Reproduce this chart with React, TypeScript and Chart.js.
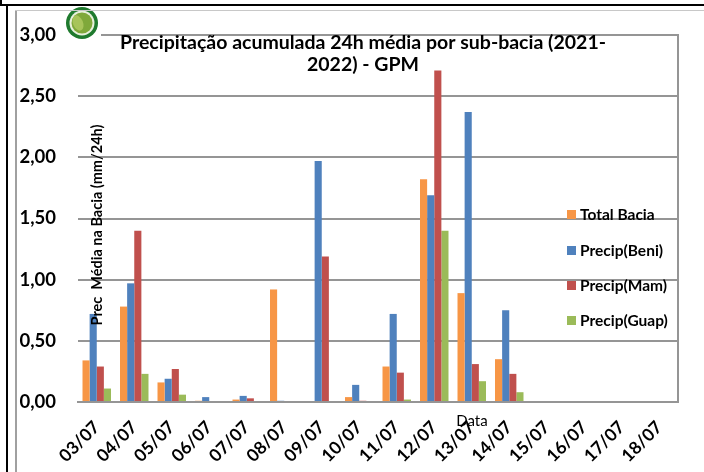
import React, { useEffect, useRef } from "react";
import { Chart, registerables } from "chart.js";

Chart.register(...registerables);

const categories = ["03/07", "04/07", "05/07", "06/07", "07/07", "08/07", "09/07", "10/07", "11/07", "12/07", "13/07", "14/07", "15/07", "16/07", "17/07", "18/07"];
const totalBacia = [0.34, 0.78, 0.16, 0.01, 0.02, 0.92, 0, 0.04, 0.29, 1.82, 0.89, 0.35, 0, 0, 0, 0];
const precipBeni = [0.72, 0.97, 0.19, 0.04, 0.05, 0.01, 1.97, 0.14, 0.72, 1.69, 2.37, 0.75, 0, 0, 0, 0];
const precipMam = [0.29, 1.40, 0.27, 0, 0.03, 0, 1.19, 0.01, 0.24, 2.71, 0.31, 0.23, 0, 0, 0, 0];
const precipGuap = [0.11, 0.23, 0.06, 0, 0, 0, 0, 0, 0.02, 1.40, 0.17, 0.08, 0, 0, 0, 0];
const seriesNames = ["Total Bacia", "Precip(Beni)", "Precip(Mam)", "Precip(Guap)"];
const seriesColors = ["#F79646", "#4F81BD", "#C0504D", "#9BBB59"];
const titleLines = ["Precipitação acumulada 24h média por sub-bacia (2021-", "2022) - GPM"];
const yTitle = "Prec  Média na Bacia (mm/24h)";
const xTitle = "Data";

const FONT = "Lato, 'Open Sans', sans-serif";

const overlayPlugin = {
  id: "overlay",
  afterDraw(chart: any) {
    const ctx = chart.ctx;
    const ca = chart.chartArea;
    ctx.save();
    // right border of plot
    ctx.strokeStyle = "#959595";
    ctx.lineWidth = 2;
    ctx.beginPath();
    ctx.moveTo(ca.right, ca.top - 1);
    ctx.lineTo(ca.right, ca.bottom);
    ctx.stroke();

    // logo
    ctx.fillStyle = "#ffffff";
    ctx.fillRect(63, 7, 38, 34);
    ctx.fillStyle = "#1f7a2e";
    ctx.beginPath();
    ctx.arc(82, 23, 16, 0, Math.PI * 2);
    ctx.fill();
    ctx.fillStyle = "#e8f0dc";
    ctx.beginPath();
    ctx.arc(82, 23, 12.5, 0, Math.PI * 2);
    ctx.fill();
    ctx.fillStyle = "#7fa83a";
    ctx.beginPath();
    ctx.arc(82, 23, 10.5, 0, Math.PI * 2);
    ctx.fill();
    ctx.fillStyle = "#a7c45a";
    ctx.beginPath();
    ctx.ellipse(78, 23, 5, 8, -0.4, 0, Math.PI * 2);
    ctx.fill();

    // title
    ctx.fillStyle = "#000";
    ctx.font = "bold 19.5px " + FONT;
    ctx.textAlign = "center";
    ctx.textBaseline = "middle";
    ctx.fillText(titleLines[0], 363, 43);
    ctx.fillText(titleLines[1], 363, 65);

    // y title
    ctx.save();
    ctx.translate(97, 225);
    ctx.rotate(-Math.PI / 2);
    ctx.font = "bold 14.5px " + FONT;
    ctx.fillText(yTitle, 0, 0);
    ctx.restore();

    // x title
    ctx.font = "15px " + FONT;
    ctx.fillText(xTitle, 472, 421);

    // legend
    const ys = [215, 251, 286, 321];
    ctx.textAlign = "left";
    ctx.font = "bold 15.5px " + FONT;
    chart.data.datasets.forEach((ds: any, i: number) => {
      ctx.fillStyle = ds.backgroundColor;
      ctx.fillRect(567, ys[i] - 5, 9, 9);
      ctx.fillStyle = "#000";
      ctx.fillText(ds.label, 580, ys[i]);
    });
    ctx.restore();
  },
};

export default function App() {
  const ref = useRef<HTMLCanvasElement | null>(null);
  useEffect(() => {
    if (!ref.current) return;
    const values = [totalBacia, precipBeni, precipMam, precipGuap];
    const chart = new Chart(ref.current, {
      type: "bar",
      data: {
        labels: categories,
        datasets: values.map((v, i) => ({
          label: seriesNames[i],
          data: v,
          backgroundColor: seriesColors[i],
          borderWidth: 0,
          categoryPercentage: 0.76,
          barPercentage: 1,
        })),
      },
      options: {
        animation: false,
        responsive: false,
        maintainAspectRatio: false,
        layout: { padding: { top: 35, right: 26, left: 0, bottom: 0 } },
        plugins: {
          legend: { display: false },
          title: { display: false },
          tooltip: { enabled: false },
        },
        scales: {
          x: {
            afterFit: (s: any) => {
              s.height = 70;
            },
            grid: { display: false, drawTicks: false },
            border: { display: true, color: "#959595", width: 2 },
            ticks: {
              color: "#000",
              font: { family: FONT, size: 17.5, weight: "bold" },
              maxRotation: 45,
              minRotation: 45,
              autoSkip: false,
              padding: 15,
            },
          },
          y: {
            min: 0,
            max: 3,
            afterFit: (s: any) => {
              s.width = 78;
            },
            grid: { color: "#959595", lineWidth: 2, drawTicks: false },
            border: { display: false },
            ticks: {
              stepSize: 0.5,
              padding: 22,
              color: "#000",
              font: { family: FONT, size: 18.5, weight: "bold" },
              callback: (v: any) => Number(v).toFixed(2).replace(".", ","),
            },
          },
        },
      },
      plugins: [overlayPlugin],
    });
    return () => chart.destroy();
  }, []);

  return (
    <div style={{ position: "absolute", left: 0, top: 0, width: 704, height: 472, background: "#fff", overflow: "hidden" }}>
      <canvas ref={ref} width={704} height={472} style={{ position: "absolute", left: 0, top: 0 }} />
      <div style={{ position: "absolute", left: 0, top: 0, width: 2, height: 6, background: "#000" }} />
      <div style={{ position: "absolute", left: 0, top: 4, width: 704, height: 2, background: "#000" }} />
      <div style={{ position: "absolute", left: 6, top: 5, width: 2, height: 467, background: "#000" }} />
      <div style={{ position: "absolute", left: 15, top: 10, width: 2, height: 462, background: "#a0a0a0" }} />
      <div style={{ position: "absolute", left: 15, top: 10, width: 689, height: 1, background: "#c8c8c8" }} />
    </div>
  );
}
